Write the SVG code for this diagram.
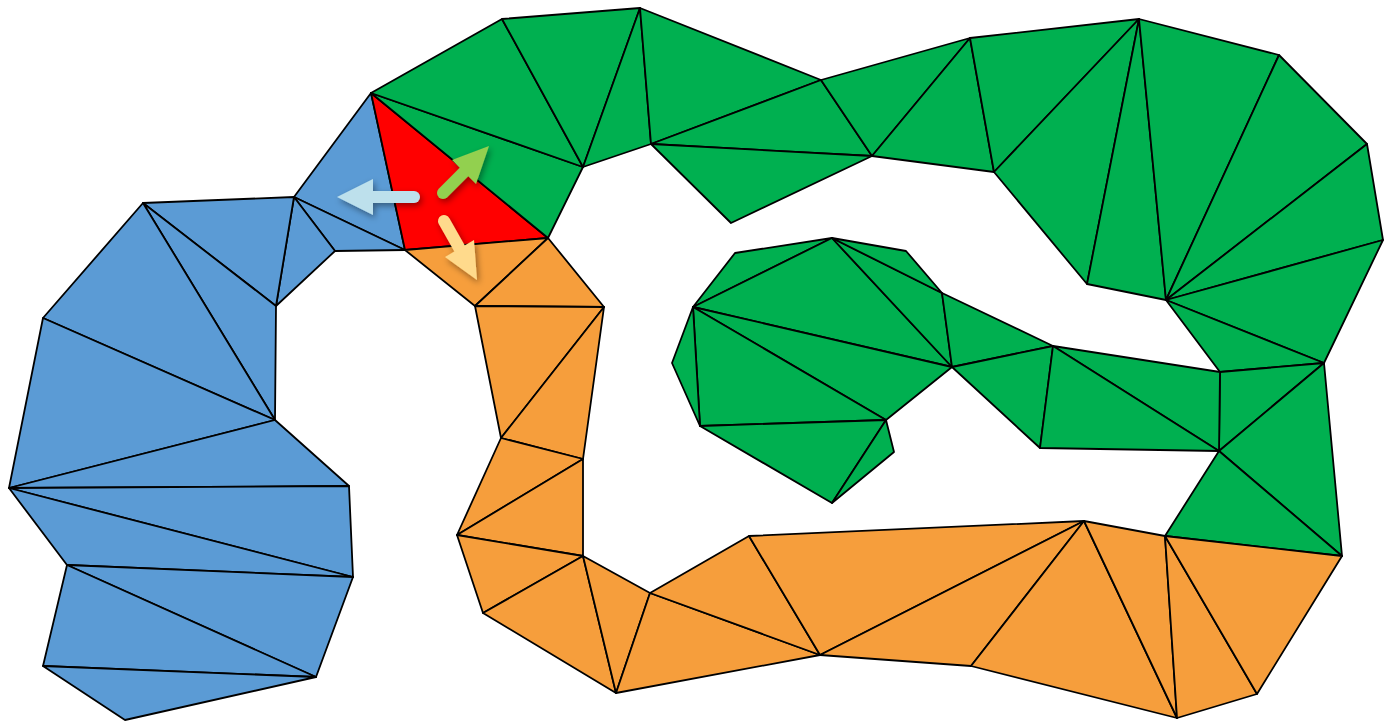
<svg xmlns="http://www.w3.org/2000/svg" width="1387" height="721" viewBox="0 0 1387 721">
<defs>
<style>
polygon{stroke:#000;stroke-width:1.8;stroke-linejoin:round}
.b{fill:#5B9BD5}.r{fill:#FF0000}.g{fill:#00B050}.o{fill:#F69E3C}
.shaft{stroke-width:12;stroke-linecap:round;fill:none}
.head{stroke:none}
</style>
<filter id="sh" x="-50%" y="-50%" width="200%" height="200%">
<feDropShadow dx="2" dy="3" stdDeviation="3" flood-color="#000" flood-opacity="0.4"/>
</filter>
</defs>
<rect width="1387" height="721" fill="#fff"/>
<g id="blue-region">
<polygon class="b" points="371,93 294,197 405,250"/>
<polygon class="b" points="294,197 335,251 405,250"/>
<polygon class="b" points="294,197 276,306 335,251"/>
<polygon class="b" points="294,197 143,203 276,306"/>
<polygon class="b" points="143,203 276,306 275,420"/>
<polygon class="b" points="143,203 43,318 275,420"/>
<polygon class="b" points="43,318 9,488 275,420"/>
<polygon class="b" points="9,488 275,420 349,486"/>
<polygon class="b" points="9,488 349,486 353,577"/>
<polygon class="b" points="9,488 67,565 353,577"/>
<polygon class="b" points="67,565 353,577 316,677"/>
<polygon class="b" points="67,565 43,666 316,677"/>
<polygon class="b" points="43,666 125,720 316,677"/>
</g>
<g id="red-triangle">
<polygon class="r" points="371,93 405,250 548,238"/>
</g>
<g id="green-region">
<polygon class="g" points="371,93 583,167 548,238"/>
<polygon class="g" points="371,93 502,19 583,167"/>
<polygon class="g" points="502,19 640,8 583,167"/>
<polygon class="g" points="640,8 651,144 583,167"/>
<polygon class="g" points="640,8 821,80 651,144"/>
<polygon class="g" points="651,144 821,80 872,156"/>
<polygon class="g" points="651,144 872,156 731,223"/>
<polygon class="g" points="821,80 970,38 872,156"/>
<polygon class="g" points="872,156 970,38 994,172"/>
<polygon class="g" points="970,38 1139,19 994,172"/>
<polygon class="g" points="994,172 1139,19 1087,284"/>
<polygon class="g" points="1087,284 1139,19 1166,300"/>
<polygon class="g" points="1139,19 1279,55 1166,300"/>
<polygon class="g" points="1279,55 1367,144 1166,300"/>
<polygon class="g" points="1367,144 1383,240 1166,300"/>
<polygon class="g" points="1383,240 1324,363 1166,300"/>
<polygon class="g" points="1166,300 1324,363 1220,372"/>
<polygon class="g" points="1220,372 1324,363 1219,451"/>
<polygon class="g" points="1324,363 1342,556 1219,451"/>
<polygon class="g" points="1219,451 1342,556 1165,536"/>
</g>
<g id="green-inner">
<polygon class="g" points="832,238 735,253 693,307"/>
<polygon class="g" points="832,238 693,307 952,367"/>
<polygon class="g" points="693,307 886,420 952,367"/>
<polygon class="g" points="693,307 700,426 886,420"/>
<polygon class="g" points="693,307 672,363 700,426"/>
<polygon class="g" points="700,426 832,503 886,420"/>
<polygon class="g" points="886,420 832,503 894,452"/>
<polygon class="g" points="832,238 952,367 942,293"/>
<polygon class="g" points="832,238 942,293 906,251"/>
<polygon class="g" points="942,293 952,367 1053,346"/>
<polygon class="g" points="952,367 1053,346 1040,448"/>
<polygon class="g" points="1053,346 1220,372 1219,451"/>
<polygon class="g" points="1053,346 1219,451 1040,448"/>
</g>
<g id="orange-region">
<polygon class="o" points="405,250 548,238 475,306"/>
<polygon class="o" points="548,238 604,307 475,306"/>
<polygon class="o" points="475,306 604,307 501,438"/>
<polygon class="o" points="604,307 583,459 501,438"/>
<polygon class="o" points="501,438 583,459 457,535"/>
<polygon class="o" points="583,459 583,556 457,535"/>
<polygon class="o" points="457,535 583,556 483,613"/>
<polygon class="o" points="583,556 616,693 483,613"/>
<polygon class="o" points="583,556 650,593 616,693"/>
<polygon class="o" points="650,593 820,655 616,693"/>
<polygon class="o" points="650,593 749,536 820,655"/>
<polygon class="o" points="749,536 1084,521 820,655"/>
<polygon class="o" points="820,655 1084,521 971,666"/>
<polygon class="o" points="971,666 1084,521 1177,718"/>
<polygon class="o" points="1084,521 1165,536 1177,718"/>
<polygon class="o" points="1165,536 1257,694 1177,718"/>
<polygon class="o" points="1165,536 1342,556 1257,694"/>
</g>
<g id="connectors" filter="url(#sh)">
<g id="arrow-left">
<line class="shaft" x1="414" y1="197" x2="370" y2="197" stroke="#BDE0EC"/>
<polygon class="head" fill="#BDE0EC" points="337,197 373,179 373,215"/>
</g>
<g id="arrow-up">
<line class="shaft" x1="443" y1="193" x2="466" y2="170" stroke="#92D050"/>
<polygon class="head" fill="#92D050" points="489,146 476,184 452,160"/>
</g>
<g id="arrow-down">
<line class="shaft" x1="444" y1="221" x2="461" y2="251" stroke="#FFDA8C"/>
<polygon class="head" fill="#FFDA8C" points="477,280 474,240 445,257"/>
</g>
</g>
</svg>
